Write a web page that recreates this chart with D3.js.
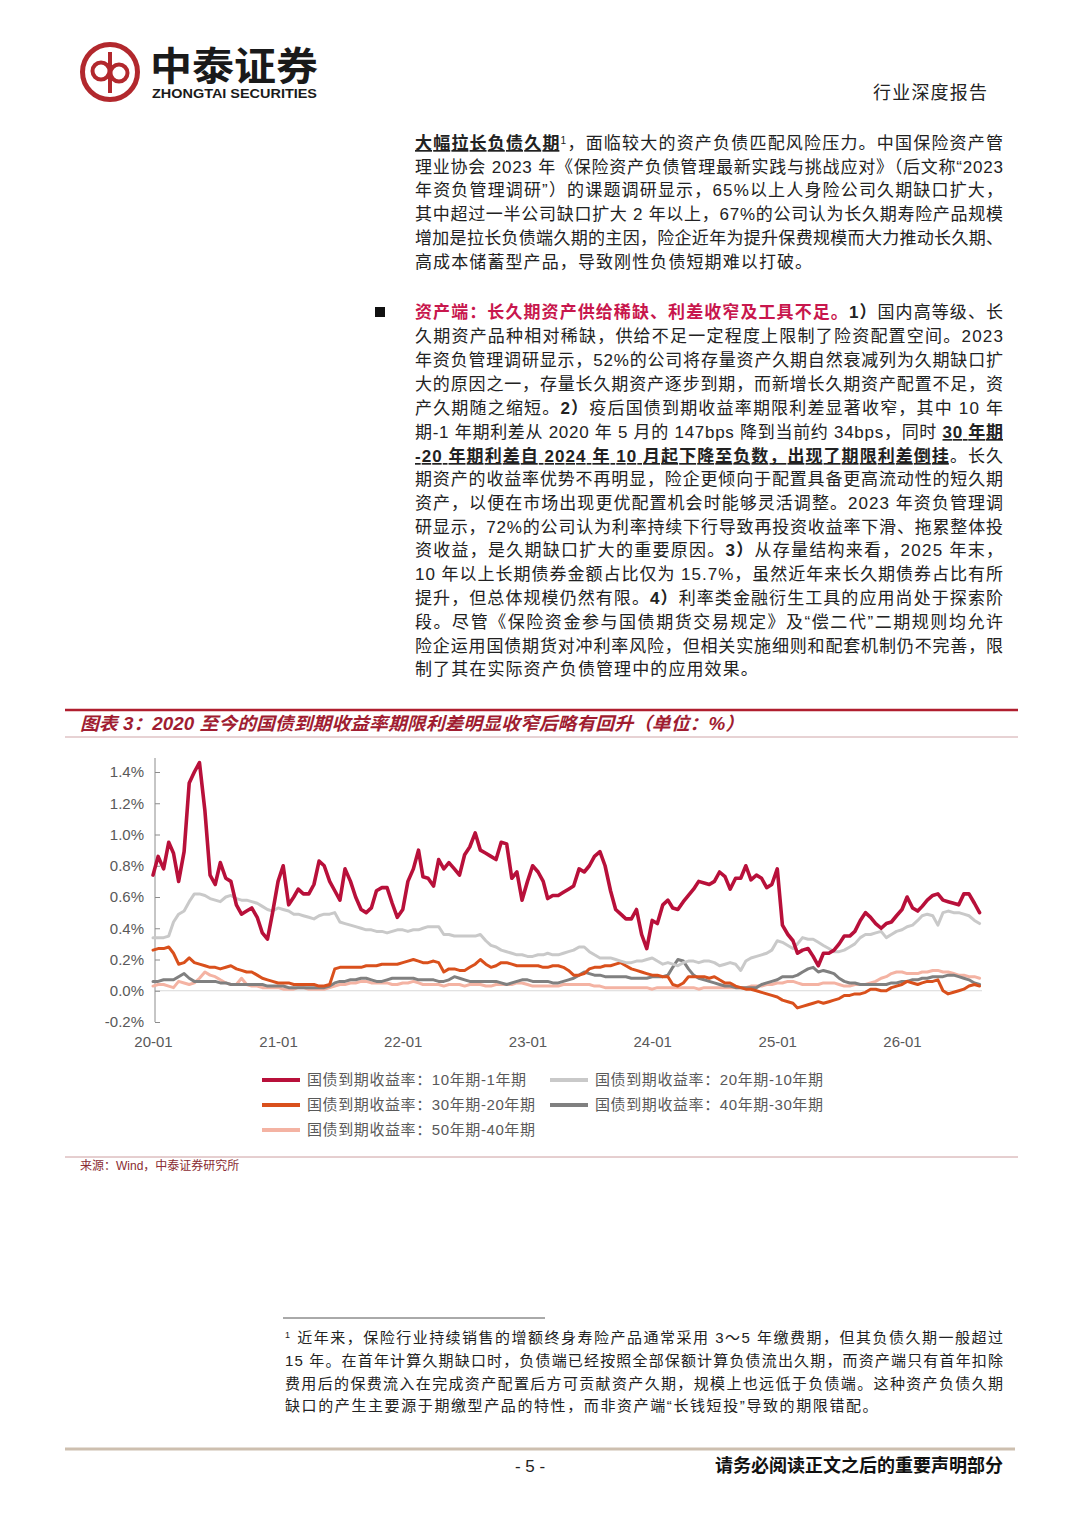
<!DOCTYPE html>
<html><head><meta charset="utf-8">
<script src="https://cdn.jsdelivr.net/npm/d3@7"></script>
<style>
body{margin:0;background:#fff;}
svg{display:block;}
</style></head><body>
<svg id="page" width="1080" height="1527"></svg>
<script>
// ---------------- DATA ----------------
const seriesNames = [
  "国债到期收益率：10年期-1年期",
  "国债到期收益率：20年期-10年期",
  "国债到期收益率：30年期-20年期",
  "国债到期收益率：40年期-30年期",
  "国债到期收益率：50年期-40年期"
];
const xTickLabels = ["20-01","21-01","22-01","23-01","24-01","25-01","26-01"];
const yTickValues = [-0.2, 0.0, 0.2, 0.4, 0.6, 0.8, 1.0, 1.2, 1.4];
// semi-monthly observation dates, 2020-01 to 2026-08 (1st and 16th of each month)
const dates = d3.utcMonth.range(new Date(Date.UTC(2020,0,1)), new Date(Date.UTC(2026,8,1)))
  .flatMap(m => [m, d3.utcDay.offset(m, 15)]);

const spread10y1y = [
 0.74,0.86,0.78,0.95,0.88,0.70,0.89,1.33,1.40,1.46,
 1.15,0.74,0.68,0.82,0.72,0.70,0.55,0.49,0.51,0.53,
 0.47,0.37,0.33,0.50,0.70,0.80,0.55,0.60,0.65,0.62,
 0.62,0.68,0.83,0.80,0.70,0.64,0.58,0.78,0.70,0.60,
 0.52,0.50,0.53,0.64,0.66,0.66,0.56,0.47,0.52,0.70,
 0.78,0.90,0.73,0.72,0.67,0.84,0.78,0.82,0.78,0.74,
 0.87,0.92,1.01,0.90,0.88,0.86,0.84,0.95,0.94,0.72,
 0.76,0.58,0.70,0.80,0.76,0.70,0.59,0.61,0.61,0.63,
 0.65,0.67,0.78,0.76,0.80,0.86,0.89,0.80,0.64,0.52,
 0.49,0.46,0.46,0.52,0.36,0.27,0.45,0.43,0.55,0.58,
 0.53,0.52,0.57,0.61,0.65,0.70,0.69,0.68,0.70,0.76,
 0.73,0.65,0.72,0.72,0.80,0.71,0.74,0.72,0.66,0.68,
 0.78,0.42,0.36,0.32,0.24,0.26,0.27,0.22,0.16,0.24,
 0.24,0.26,0.30,0.35,0.35,0.38,0.45,0.50,0.47,0.43,
 0.40,0.43,0.44,0.48,0.52,0.60,0.53,0.51,0.54,0.58,
 0.61,0.62,0.58,0.57,0.56,0.55,0.62,0.62,0.56,0.50
];
const spread20y10y = [
 0.34,0.34,0.34,0.35,0.44,0.49,0.51,0.57,0.62,0.62,
 0.61,0.59,0.58,0.57,0.60,0.61,0.59,0.58,0.58,0.57,
 0.56,0.54,0.52,0.51,0.53,0.52,0.51,0.49,0.49,0.48,
 0.47,0.46,0.48,0.49,0.49,0.50,0.44,0.43,0.42,0.41,
 0.40,0.39,0.39,0.38,0.38,0.37,0.38,0.39,0.39,0.38,
 0.39,0.39,0.40,0.41,0.41,0.41,0.36,0.36,0.35,0.35,
 0.35,0.35,0.35,0.36,0.32,0.29,0.28,0.26,0.25,0.24,
 0.23,0.23,0.22,0.22,0.23,0.23,0.24,0.23,0.23,0.24,
 0.25,0.26,0.28,0.28,0.25,0.23,0.21,0.21,0.21,0.20,
 0.19,0.18,0.18,0.19,0.19,0.20,0.21,0.19,0.17,0.18,
 0.17,0.16,0.18,0.19,0.19,0.18,0.19,0.19,0.18,0.16,
 0.17,0.18,0.17,0.13,0.19,0.21,0.22,0.23,0.24,0.26,
 0.32,0.31,0.29,0.27,0.30,0.34,0.33,0.33,0.31,0.29,
 0.27,0.25,0.25,0.26,0.28,0.30,0.34,0.36,0.36,0.37,
 0.38,0.34,0.36,0.38,0.39,0.41,0.42,0.45,0.48,0.49,
 0.48,0.42,0.50,0.51,0.50,0.50,0.49,0.48,0.45,0.43
];
const spread30y20y = [
 0.26,0.27,0.27,0.28,0.24,0.17,0.18,0.21,0.18,0.17,
 0.16,0.15,0.15,0.14,0.15,0.16,0.14,0.13,0.12,0.12,
 0.10,0.08,0.07,0.06,0.05,0.05,0.05,0.04,0.04,0.04,
 0.04,0.04,0.03,0.03,0.04,0.14,0.15,0.15,0.15,0.15,
 0.15,0.16,0.16,0.16,0.17,0.17,0.17,0.17,0.18,0.19,
 0.20,0.19,0.18,0.18,0.19,0.18,0.12,0.14,0.14,0.13,
 0.13,0.15,0.17,0.20,0.17,0.15,0.16,0.18,0.18,0.17,
 0.16,0.16,0.16,0.16,0.16,0.15,0.15,0.16,0.16,0.15,
 0.13,0.10,0.10,0.11,0.14,0.15,0.15,0.16,0.16,0.17,
 0.18,0.16,0.14,0.13,0.12,0.11,0.10,0.10,0.09,0.09,
 0.04,0.03,0.05,0.09,0.09,0.09,0.09,0.08,0.09,0.07,
 0.05,0.05,0.03,0.02,0.01,0.01,0.00,-0.01,-0.02,-0.03,
 -0.04,-0.06,-0.07,-0.08,-0.11,-0.10,-0.09,-0.08,-0.07,-0.08,
 -0.07,-0.06,-0.05,-0.03,-0.03,-0.02,-0.02,-0.01,0.01,0.01,
 0.00,0.00,0.02,0.03,0.04,0.06,0.05,0.04,0.05,0.06,
 0.06,0.07,0.00,-0.02,-0.01,0.00,0.01,0.03,0.04,0.03
];
const spread40y30y = [
 0.06,0.06,0.07,0.07,0.07,0.09,0.11,0.08,0.06,0.06,
 0.06,0.06,0.06,0.05,0.05,0.04,0.04,0.04,0.04,0.04,
 0.04,0.04,0.03,0.03,0.03,0.03,0.02,0.02,0.02,0.02,
 0.02,0.02,0.02,0.02,0.03,0.05,0.06,0.06,0.07,0.07,
 0.08,0.08,0.07,0.06,0.06,0.07,0.08,0.08,0.08,0.08,
 0.08,0.07,0.07,0.07,0.07,0.06,0.06,0.07,0.09,0.08,
 0.07,0.06,0.06,0.06,0.06,0.06,0.06,0.05,0.04,0.05,
 0.06,0.07,0.07,0.06,0.06,0.06,0.06,0.05,0.05,0.06,
 0.07,0.08,0.10,0.12,0.11,0.10,0.10,0.09,0.09,0.09,
 0.09,0.09,0.08,0.08,0.08,0.08,0.09,0.09,0.09,0.10,
 0.15,0.20,0.19,0.14,0.10,0.08,0.07,0.06,0.05,0.04,
 0.03,0.03,0.02,0.02,0.02,0.02,0.02,0.04,0.05,0.06,
 0.07,0.09,0.09,0.09,0.10,0.12,0.14,0.15,0.12,0.13,
 0.12,0.11,0.08,0.06,0.05,0.05,0.04,0.04,0.04,0.04,
 0.04,0.04,0.05,0.05,0.06,0.06,0.07,0.07,0.08,0.08,
 0.09,0.09,0.09,0.10,0.10,0.09,0.08,0.07,0.05,0.04
];
const spread50y40y = [
 0.03,0.04,0.04,0.03,0.02,0.06,0.05,0.04,0.05,0.08,
 0.12,0.10,0.09,0.07,0.05,0.04,0.04,0.08,0.04,0.03,
 0.03,0.02,0.02,0.02,0.02,0.01,0.01,0.01,0.02,0.02,
 0.01,0.01,0.01,0.01,0.02,0.03,0.04,0.04,0.05,0.05,
 0.06,0.06,0.05,0.05,0.05,0.05,0.04,0.04,0.05,0.05,
 0.06,0.05,0.04,0.04,0.04,0.04,0.03,0.04,0.04,0.04,
 0.03,0.04,0.04,0.04,0.03,0.03,0.04,0.04,0.04,0.04,
 0.05,0.05,0.04,0.03,0.03,0.03,0.03,0.03,0.03,0.04,
 0.04,0.04,0.04,0.04,0.04,0.03,0.03,0.02,0.02,0.02,
 0.02,0.02,0.02,0.02,0.02,0.02,0.01,0.02,0.02,0.02,
 0.02,0.02,0.02,0.02,0.02,0.01,0.02,0.02,0.02,0.02,
 0.02,0.02,0.02,0.02,0.02,0.03,0.03,0.03,0.04,0.04,
 0.05,0.05,0.06,0.06,0.05,0.04,0.04,0.04,0.04,0.05,
 0.05,0.05,0.04,0.03,0.03,0.04,0.04,0.04,0.05,0.06,
 0.08,0.09,0.11,0.12,0.12,0.11,0.11,0.11,0.12,0.12,
 0.13,0.13,0.12,0.12,0.11,0.10,0.10,0.09,0.09,0.08
];
const seriesValues = [spread10y1y, spread20y10y, spread30y20y, spread40y30y, spread50y40y];
const seriesColors = ["#B8103A", "#C9C9C9", "#D9501C", "#808080", "#F4B3A3"];

// ---------------- PAGE TEXT ----------------
const para1 = [
  [{t:"大幅拉长负债久期",b:1,u:1},{t:"1",sup:1},{t:"，面临较大的资产负债匹配风险压力。中国保险资产管"}],
  [{t:"理业协会 2023 年《保险资产负债管理最新实践与挑战应对》（后文称“2023"}],
  [{t:"年资负管理调研”）的课题调研显示，65%以上人身险公司久期缺口扩大，"}],
  [{t:"其中超过一半公司缺口扩大 2 年以上，67%的公司认为长久期寿险产品规模"}],
  [{t:"增加是拉长负债端久期的主因，险企近年为提升保费规模而大力推动长久期、"}],
  [{t:"高成本储蓄型产品，导致刚性负债短期难以打破。"}]
];
const para2 = [
  [{t:"资产端：长久期资产供给稀缺、利差收窄及工具不足。",b:1,c:"#C8174D"},{t:"1）",b:1},{t:"国内高等级、长"}],
  [{t:"久期资产品种相对稀缺，供给不足一定程度上限制了险资配置空间。2023"}],
  [{t:"年资负管理调研显示，52%的公司将存量资产久期自然衰减列为久期缺口扩"}],
  [{t:"大的原因之一，存量长久期资产逐步到期，而新增长久期资产配置不足，资"}],
  [{t:"产久期随之缩短。"},{t:"2）",b:1},{t:"疫后国债到期收益率期限利差显著收窄，其中 10 年"}],
  [{t:"期-1 年期利差从 2020 年 5 月的 147bps 降到当前约 34bps，同时 "},{t:"30 年期",b:1,u:1}],
  [{t:"-20 年期利差自 2024 年 10 月起下降至负数，出现了期限利差倒挂",b:1,u:1},{t:"。长久"}],
  [{t:"期资产的收益率优势不再明显，险企更倾向于配置具备更高流动性的短久期"}],
  [{t:"资产，以便在市场出现更优配置机会时能够灵活调整。2023 年资负管理调"}],
  [{t:"研显示，72%的公司认为利率持续下行导致再投资收益率下滑、拖累整体投"}],
  [{t:"资收益，是久期缺口扩大的重要原因。"},{t:"3）",b:1},{t:"从存量结构来看，2025 年末，"}],
  [{t:"10 年以上长期债券金额占比仅为 15.7%，虽然近年来长久期债券占比有所"}],
  [{t:"提升，但总体规模仍然有限。"},{t:"4）",b:1},{t:"利率类金融衍生工具的应用尚处于探索阶"}],
  [{t:"段。尽管《保险资金参与国债期货交易规定》及“偿二代”二期规则均允许"}],
  [{t:"险企运用国债期货对冲利率风险，但相关实施细则和配套机制仍不完善，限"}],
  [{t:"制了其在实际资产负债管理中的应用效果。"}]
];
const footnote = [
  [{t:"1",sup:1},{t:" 近年来，保险行业持续销售的增额终身寿险产品通常采用 3～5 年缴费期，但其负债久期一般超过"}],
  [{t:"15 年。在首年计算久期缺口时，负债端已经按照全部保额计算负债流出久期，而资产端只有首年扣除"}],
  [{t:"费用后的保费流入在完成资产配置后方可贡献资产久期，规模上也远低于负债端。这种资产负债久期"}],
  [{t:"缺口的产生主要源于期缴型产品的特性，而非资产端“长钱短投”导致的期限错配。"}]
];
const chartTitle = "图表 3：2020 至今的国债到期收益率期限利差明显收窄后略有回升（单位：%）";
const sourceText = "来源：Wind，中泰证券研究所";

// ---------------- DRAW ----------------
const FONT = '"Liberation Sans","Noto Sans CJK SC",sans-serif';
const svg = d3.select("#page").attr("font-family", FONT);
svg.append("rect").attr("width",1080).attr("height",1527).attr("fill","#fff");

function textLine(g, x, y, segs, opt) {
  const t = g.append("text").attr("x", x).attr("y", y)
    .attr("font-size", opt.size).attr("fill", opt.color || "#222");
  segs.forEach(s => {
    const ts = t.append("tspan").text(s.t);
    if (s.b) ts.attr("font-weight", "bold");
    if (s.u) ts.attr("text-decoration", "underline");
    if (s.c) ts.attr("fill", s.c);
    if (s.sup) ts.attr("font-size", opt.size * 0.6).attr("baseline-shift", "super");
  });
  if (opt.width) t.attr("textLength", opt.width).attr("lengthAdjust", "spacing");
  else if (opt.ls) t.attr("letter-spacing", opt.ls);
  return t;
}

// Header / logo
const hdr = svg.append("g");
hdr.append("circle").attr("cx",110).attr("cy",72).attr("r",27.5)
  .attr("fill","none").attr("stroke","#B2282D").attr("stroke-width",5);
hdr.append("line").attr("x1",110).attr("x2",110).attr("y1",52).attr("y2",93)
  .attr("stroke","#B2282D").attr("stroke-width",4);
hdr.append("circle").attr("cx",101).attr("cy",71).attr("r",8.5)
  .attr("fill","none").attr("stroke","#B2282D").attr("stroke-width",4);
hdr.append("circle").attr("cx",119).attr("cy",73).attr("r",8.5)
  .attr("fill","none").attr("stroke","#B2282D").attr("stroke-width",4);
hdr.append("text").attr("x",150).attr("y",80).attr("font-size",39).attr("font-weight","bold")
  .attr("fill","#1a1a1a").attr("textLength",168).attr("lengthAdjust","spacingAndGlyphs").text("中泰证券");
hdr.append("text").attr("x",152).attr("y",98).attr("font-size",13).attr("font-weight","bold")
  .attr("font-family",'"Liberation Sans Narrow","Liberation Sans",sans-serif')
  .attr("fill","#1a1a1a").attr("textLength",165).attr("lengthAdjust","spacingAndGlyphs").text("ZHONGTAI SECURITIES");
hdr.append("text").attr("x",987).attr("y",99).attr("font-size",18).attr("text-anchor","end")
  .attr("fill","#222").attr("textLength",114).attr("lengthAdjust","spacing").text("行业深度报告");

// Body paragraphs
const body = svg.append("g");
const p1Centers = [143,167,190,214,238,262];
para1.forEach((segs,i) => textLine(body, 415, p1Centers[i]+6, segs,
  {size:17, width: i < para1.length-1 ? 588 : null, ls: 1.1}));
body.append("rect").attr("x",375).attr("y",307).attr("width",10).attr("height",10).attr("fill","#111");
const p2Centers = [312,336,360,384,408,432,456,479,503,527,550,574,598,622,646,669];
para2.forEach((segs,i) => textLine(body, 415, p2Centers[i]+6, segs,
  {size:17, width: i < para2.length-1 ? 588 : null, ls: 1.1}));

// Chart title block
svg.append("line").attr("x1",65).attr("x2",1018).attr("y1",710).attr("y2",710)
  .attr("stroke","#B01E2E").attr("stroke-width",2.5);
svg.append("text").attr("x",80).attr("y",730).attr("font-size",18).attr("font-weight","bold")
  .attr("font-style","italic").attr("fill","#A01D31")
  .attr("textLength",664).attr("lengthAdjust","spacingAndGlyphs").text(chartTitle);
svg.append("line").attr("x1",65).attr("x2",1018).attr("y1",737).attr("y2",737)
  .attr("stroke","#CFA5A8").attr("stroke-width",1);

// Chart
const x = d3.scaleUtc()
  .domain([new Date(Date.UTC(2020,0,1)), new Date(Date.UTC(2026,0,1))])
  .range([153, 902]);
const y = d3.scaleLinear().domain([-0.2, 1.4]).range([1022, 772]);

const chart = svg.append("g");
chart.append("line").attr("x1",155).attr("x2",982).attr("y1",y(0)).attr("y2",y(0))
  .attr("stroke","#D9D9D9").attr("stroke-width",1.2);

const yAxis = chart.append("g").attr("transform","translate(155,0)")
  .call(d3.axisLeft(y).tickValues(yTickValues).tickSizeInner(-5).tickSizeOuter(0)
    .tickPadding(11).tickFormat(d => d.toFixed(1) + "%"));
yAxis.select(".domain").attr("stroke","#8C8C8C").attr("d","M0,758V1022");
yAxis.selectAll(".tick line").attr("stroke","#8C8C8C");
yAxis.selectAll("text").attr("font-size",15).attr("fill","#595959").attr("font-family",FONT);

const xTickDates = xTickLabels.map(s => new Date(Date.UTC(2000 + +s.slice(0,2), +s.slice(3)-1, 1)));
const xAxis = chart.append("g").attr("transform","translate(0,1022)")
  .call(d3.axisBottom(x).tickValues(xTickDates).tickSize(0).tickPadding(14)
    .tickFormat((d,i) => xTickLabels[i]));
xAxis.select(".domain").remove();
xAxis.selectAll("text").attr("font-size",15).attr("fill","#595959").attr("font-family",FONT);

const line = d3.line().x(d => x(d.date)).y(d => y(d.v));
const order = [4,3,2,1,0];
order.forEach(si => {
  const pts = dates.map((d,i) => ({date:d, v: seriesValues[si][i]}));
  chart.append("path").datum(pts).attr("d", line)
    .attr("fill","none").attr("stroke", seriesColors[si])
    .attr("stroke-width", si === 0 ? 3.6 : 3)
    .attr("stroke-linejoin","round").attr("stroke-linecap","round");
});

// Legend
const legendPos = [[262,1080],[550,1080],[262,1105],[550,1105],[262,1130]];
const lg = svg.append("g");
seriesNames.forEach((name,i) => {
  const [lx,ly] = legendPos[i];
  lg.append("line").attr("x1",lx).attr("x2",lx+38).attr("y1",ly).attr("y2",ly)
    .attr("stroke",seriesColors[i]).attr("stroke-width",4);
  lg.append("text").attr("x",lx+45).attr("y",ly+5).attr("font-size",15)
    .attr("letter-spacing",0.6).attr("fill","#595959").text(name);
});

// Source
svg.append("line").attr("x1",65).attr("x2",1018).attr("y1",1157).attr("y2",1157)
  .attr("stroke","#CC9EA0").attr("stroke-width",1);
svg.append("text").attr("x",80).attr("y",1170).attr("font-size",12).attr("fill","#8A2C32").text(sourceText);

// Footnote
svg.append("line").attr("x1",283).attr("x2",545).attr("y1",1318).attr("y2",1318)
  .attr("stroke","#555").attr("stroke-width",1);
const fnCenters = [1338,1361,1384,1406];
footnote.forEach((segs,i) => textLine(svg, 285, fnCenters[i]+5, segs,
  {size:15, width: i < footnote.length-1 ? 718 : null, ls: 1.6}));

// Footer
svg.append("line").attr("x1",65).attr("x2",1015).attr("y1",1449).attr("y2",1449)
  .attr("stroke","#CDBFAF").attr("stroke-width",3);
svg.append("text").attr("x",530).attr("y",1472).attr("font-size",17).attr("text-anchor","middle")
  .attr("fill","#222").text("- 5 -");
svg.append("text").attr("x",1003).attr("y",1472).attr("font-size",18).attr("font-weight","bold")
  .attr("text-anchor","end").attr("fill","#111").text("请务必阅读正文之后的重要声明部分");
</script>
</body></html>
